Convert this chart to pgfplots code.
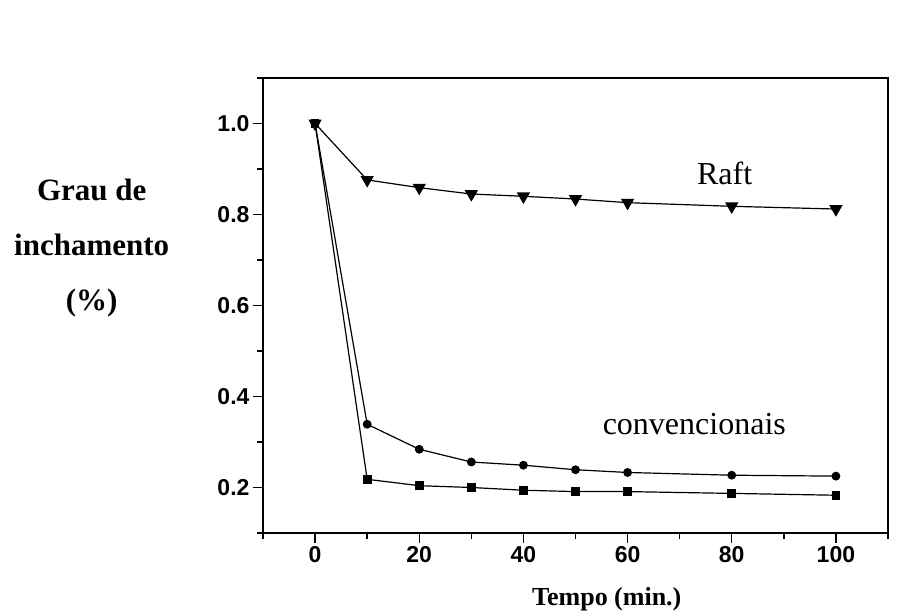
\documentclass[border=0pt]{standalone}
\usepackage{fontspec}
\setmainfont{Liberation Serif}
\newfontfamily\ticksans{Liberation Sans}
\usepackage{pgfplots}
\pgfplotsset{compat=1.18}

\begin{document}
\begin{tikzpicture}
\useasboundingbox (-263pt,-79pt) rectangle (644pt,533pt);
\begin{axis}[
    at={(0pt,0pt)}, anchor=south west,
    scale only axis,
    width=625pt, height=455pt,
    xmin=-10, xmax=110,
    ymin=0.1, ymax=1.1,
    xtick={0,20,40,60,80,100},
    minor xtick={-10,10,30,50,70,90,110},
    ytick={0.2,0.4,0.6,0.8,1.0},
    minor ytick={0.1,0.3,0.5,0.7,0.9,1.1},
    yticklabel style={/pgf/number format/.cd,fixed,fixed zerofill,precision=1},
    tick pos=left,
    tick align=outside,
    major tick length=10pt,
    minor tick length=6pt,
    every tick/.style={black, line width=1.4pt},
    axis line style={line width=1.6pt},
    ticklabel style={font=\ticksans\bfseries\fontsize{23}{23}\selectfont},
    /pgf/number format/assume math mode=true,
    clip=false,
]
% convencionais (circulos)
\addplot[black, line width=1.2pt, mark=*, mark size=3.8pt] coordinates {
    (0,1.0) (10,0.339) (20,0.284) (30,0.256) (40,0.249) (50,0.239) (60,0.233) (80,0.227) (100,0.225)
};
% convencionais (quadrados)
\addplot[black, line width=1.2pt, mark=square*, mark size=3.8pt] coordinates {
    (0,1.0) (10,0.218) (20,0.204) (30,0.200) (40,0.194) (50,0.191) (60,0.191) (80,0.187) (100,0.183)
};
% Raft (triangulos)
\addplot[black, line width=1.2pt, mark=triangle*, mark size=6.5pt, mark options={rotate=180}] coordinates {
    (0,1.0) (10,0.876) (20,0.859) (30,0.845) (40,0.840) (50,0.834) (60,0.826) (80,0.818) (100,0.812)
};
\node[anchor=base west, font=\fontsize{32}{32}\selectfont, inner sep=0pt] at (axis cs:73.3,0.867) {Raft};
\node[anchor=base west, font=\fontsize{32}{32}\selectfont, inner sep=0pt] at (axis cs:55.2,0.317) {convencionais};
\node[align=center, font=\bfseries\fontsize{31}{55}\selectfont, inner sep=0pt]
    at (axis description cs:-0.274,0.627) {Grau de\\inchamento\\(\%)};
\node[anchor=base, font=\bfseries\fontsize{26}{26}\selectfont, inner sep=0pt]
    at (axis description cs:0.55,-0.16) {Tempo (min.)};
\end{axis}
\end{tikzpicture}
\end{document}
